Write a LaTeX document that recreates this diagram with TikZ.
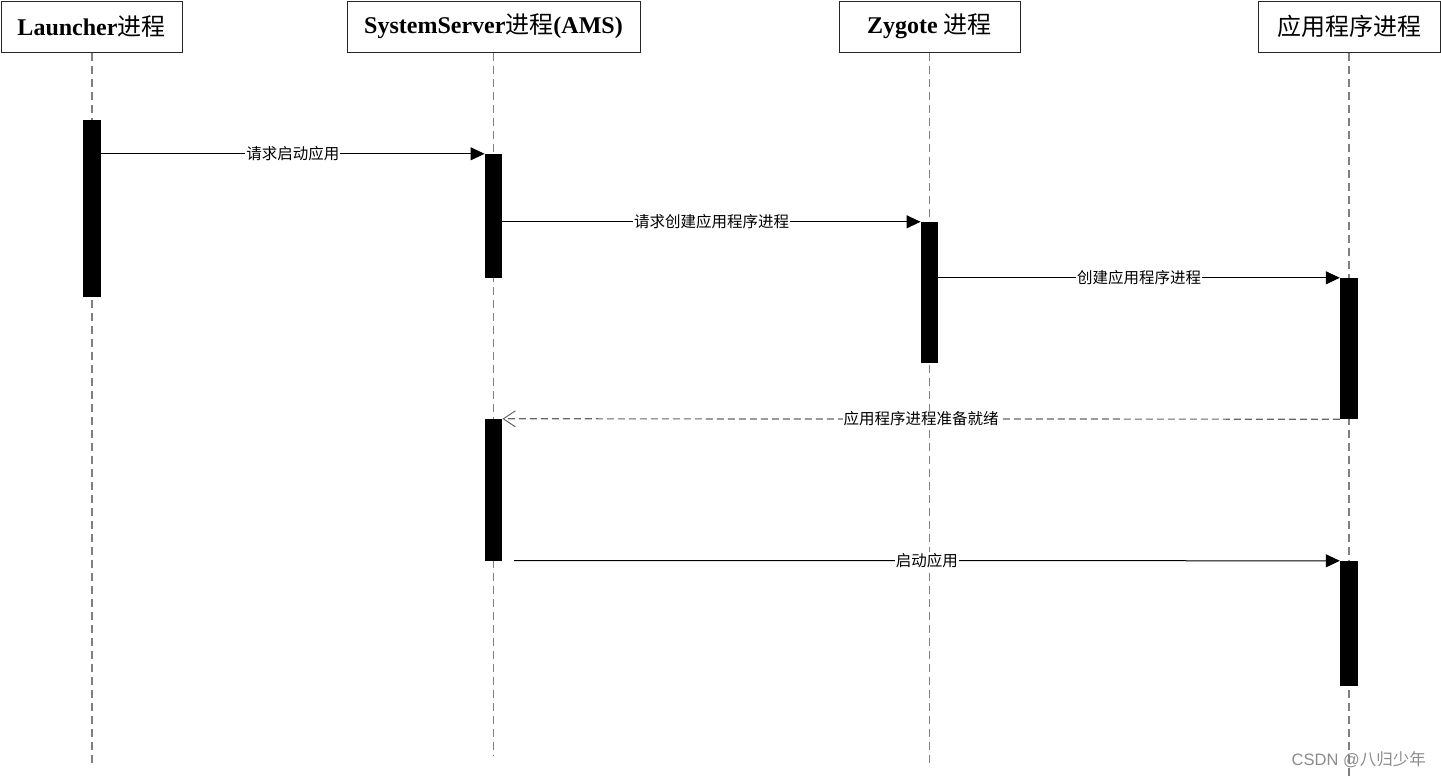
\documentclass[tikz,border=0pt]{standalone}
\usepackage{fontspec}
\setmainfont{Liberation Serif}
\newfontfamily\cjk{Noto Sans CJK SC}
\newfontfamily\wmfont{Liberation Sans}
\usetikzlibrary{arrows.meta}
\begin{document}
\begin{tikzpicture}[x=1pt,y=-1pt,
  head/.style={draw=black!85, line width=1pt, fill=white, inner sep=0pt, minimum height=51pt, font=\fontsize{24}{26}\selectfont\bfseries},
  bar/.style={fill=black, draw=none, inner sep=0pt, minimum width=#1},
  bar/.default=17.5pt,
  life/.style={draw=black!50, line width=1.6pt, dash pattern=on 8pt off 5pt},
  msg/.style={draw=black, line width=1pt, -{Triangle[length=14pt,width=13pt]}},
  reply/.style={draw=black!60, line width=1.2pt, dash pattern=on 7pt off 4pt, -{Straight Barb[length=12pt,width=16pt,line width=1pt]}},
  lbl/.style={fill=white, inner sep=1pt, font=\cjk\fontsize{15.5}{17}\selectfont}
]
\useasboundingbox (0,0) rectangle (1441,779);

% headers
\node[head, minimum width=181pt] (hL) at (91.5,26.5) {Launcher{\mdseries\cjk 进程}};
\node[head, minimum width=293pt] (hS) at (493.5,26.5) {SystemServer{\mdseries\cjk 进程}(AMS)};
\node[head, minimum width=181pt] (hZ) at (929.5,26.5) {Zygote {\mdseries\cjk 进程}};
\node[head, minimum width=182pt] (hA) at (1349,26.5) {{\mdseries\cjk 应用程序进程}};

% lifeline ends
\coordinate (eL) at (92,766);
\coordinate (eS) at (493.5,755);
\coordinate (eZ) at (929.5,764);
\coordinate (eA) at (1349,779);

\draw[life] (hL.south -| eL) -- (eL);
\draw[life] (hS.south) -- (eS);
\draw[life] (hZ.south) -- (eZ);
\draw[life] (hA.south) -- (eA);

% activation bars
\node[bar=18pt, minimum height=177pt] (bL) at (92,208.5) {};
\node[bar, minimum height=124pt] (bS1) at (493.5,216) {};
\node[bar, minimum height=141pt] (bZ) at (929.5,292.5) {};
\node[bar=18pt, minimum height=141pt] (bA1) at (1349,348.5) {};
\node[bar, minimum height=142pt] (bS2) at (493.5,490) {};
\node[bar=18pt, minimum height=125pt] (bA2) at (1349,623.5) {};

% messages
\draw[msg] (bL.east |- bS1.north) -- (bS1.north west) node[midway, lbl] {请求启动应用};
\draw[msg] (bS1.east |- bZ.north) -- (bZ.north west) node[midway, lbl] {请求创建应用程序进程};
\draw[msg] (bZ.east |- bA1.north) -- (bA1.north west) node[midway, lbl] {创建应用程序进程};
\draw[reply] (bA1.south west) -- (bS2.north east) node[midway, lbl] {应用程序进程准备就绪};
\coordinate (m5s) at (514,560.5);
\draw[msg] (m5s) -- (bA2.north west) node[midway, lbl] {启动应用};

% watermark
\node[anchor=east, text=black!45, inner sep=0pt, font=\fontsize{16.5}{18}\selectfont] (wm) at (1426,760) {\wmfont CSDN @{\cjk 八归少年}};
\end{tikzpicture}
\end{document}
